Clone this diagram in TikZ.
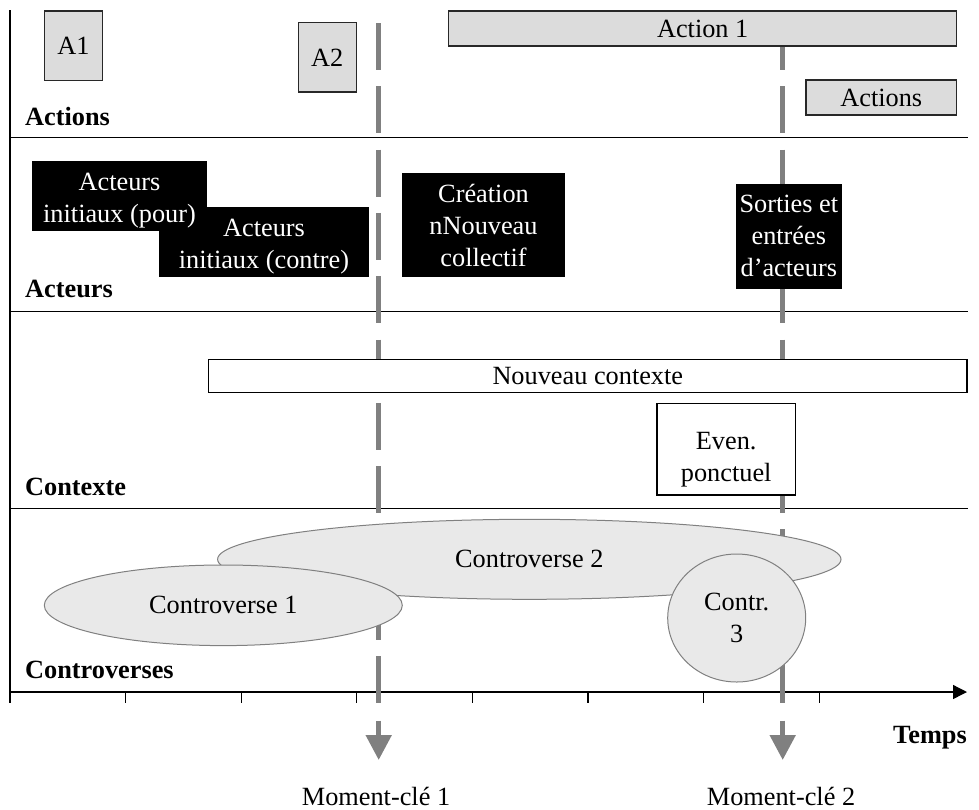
\documentclass[tikz,border=0pt]{standalone}
\usepackage{fontspec}
\setmainfont{Liberation Serif}
\usetikzlibrary{shapes.geometric,arrows.meta}
\definecolor{boxgray}{RGB}{220,220,220}
\definecolor{ellgray}{RGB}{233,233,233}
\definecolor{ellline}{RGB}{128,128,128}
\definecolor{keygray}{RGB}{128,128,128}
\definecolor{frameline}{RGB}{40,40,40}
\begin{document}
\begin{tikzpicture}[x=1pt,y=-1pt,
  every node/.style={font=\fontsize{26.3}{32}\selectfont, inner sep=0pt},
  graybox/.style={rectangle, draw=frameline, fill=boxgray, line width=1.5pt},
  blackbox/.style={rectangle, fill=black, text=white, align=center},
  whitetext/.style={text=white, align=center},
  whitebox/.style={rectangle, draw=black, fill=white, line width=1.2pt, align=center},
  controv/.style={ellipse, draw=ellline, fill=ellgray, line width=1pt, align=center},
  rowlabel/.style={font=\fontsize{26.3}{32}\selectfont\bfseries, anchor=base west},
  keylabel/.style={anchor=base},
  sepline/.style={line width=1.3pt, black},
  keyline/.style={line width=5pt, keygray, dash pattern=on 47pt off 16.3pt},
  keyarrow/.style={line width=5pt, keygray, -{Triangle[width=25pt,length=25pt]}}
]
\useasboundingbox (0,0) rectangle (979,809);

% frame, separators, axis
\coordinate (top) at (10,10);
\coordinate (o) at (10,692);
\coordinate (bot) at (10,703);
\coordinate (axend) at (967,692);
\coordinate (s1a) at (10,137.7); \coordinate (s1b) at (968,137.7);
\coordinate (s2a) at (10,311.3); \coordinate (s2b) at (968,311.3);
\coordinate (s3a) at (10,508.3); \coordinate (s3b) at (968,508.3);
\draw[sepline] (top) -- (bot);
\draw[sepline] (s1a) -- (s1b);
\draw[sepline] (s2a) -- (s2b);
\draw[sepline] (s3a) -- (s3b);
\draw[sepline, -{Triangle[width=14pt,length=14pt]}] (o) -- (axend);
\foreach \i in {0,...,7} {
  \draw[sepline] (10+115.6*\i,692) -- (10+115.6*\i,703);
}

% key moment lines
\coordinate (k1a) at (378.7,23); \coordinate (k1b) at (378.7,703);
\coordinate (k2a) at (782.7,23); \coordinate (k2b) at (782.7,703);
\coordinate (k1c) at (378.7,720.7); \coordinate (k1d) at (378.7,760);
\coordinate (k2c) at (782.7,720.7); \coordinate (k2d) at (782.7,760);
\draw[keyline] (k1a) -- (k1b);
\draw[keyline] (k2a) -- (k2b);
\draw[keyarrow] (k1c) -- (k1d);
\draw[keyarrow] (k2c) -- (k2d);

% controversies
\node[controv, minimum width=623.4pt, minimum height=80pt] (c2) at (529.3,559.3) {Controverse 2};
\node[controv, minimum width=358pt, minimum height=80.6pt] (c1) at (223.3,605.3) {Controverse 1};
\node[controv, minimum width=138pt, minimum height=128pt] (c3) at (736.7,618) {Contr.\\3};

% actions
\node[graybox, minimum width=57.6pt, minimum height=69.7pt] (a1) at (73.5,45.8) {A1};
\node[graybox, minimum width=58pt, minimum height=69.3pt] (a2) at (327.3,57.3) {A2};
\node[graybox, minimum width=508pt, minimum height=35pt] (act1) at (702.7,28.5) {Action 1};
\node[graybox, minimum width=150.7pt, minimum height=35pt] (acts) at (881.3,97.5) {Actions};

% actors
\node[blackbox, minimum width=209.4pt, minimum height=70.3pt] (contre) at (264,242.2) {};
\node[blackbox, minimum width=174.4pt, minimum height=70pt] (pour) at (119.5,196) {};
\node[whitetext] (pourt) at ([yshift=-5pt]pour.center) {Acteurs\\initiaux (pour)};
\node[whitetext] (contret) at ([yshift=-4pt]contre.center) {Acteurs\\initiaux (contre)};
\node[blackbox, minimum width=162.4pt, minimum height=104.6pt] (crea) at (483.5,225) {Création\\nNouveau\\collectif};
\node[blackbox, minimum width=105.7pt, minimum height=104.7pt] (sort) at (788.8,236.3) {Sorties et\\entrées\\d’acteurs};

% context
\node[whitebox, minimum width=758.5pt, minimum height=33.4pt] (ctx) at (587.8,376) {Nouveau contexte};
\node[whitebox, minimum width=138.3pt, minimum height=91.7pt] (even) at (726.2,449.2) {};
\node[align=center] (event) at ([yshift=-10pt]even.center) {Even.\\ponctuel};

% row labels
\node[rowlabel] (lact) at (25,125) {Actions};
\node[rowlabel] (lacr) at (25,297.7) {Acteurs};
\node[rowlabel] (lctx) at (25,495) {Contexte};
\node[rowlabel] (lcon) at (25,678) {Controverses};
\node[rowlabel] (temps) at (893,743) {Temps};
\node[keylabel] (m1) at (376,805) {Moment-clé 1};
\node[keylabel] (m2) at (781,805) {Moment-clé 2};
\end{tikzpicture}
\end{document}
